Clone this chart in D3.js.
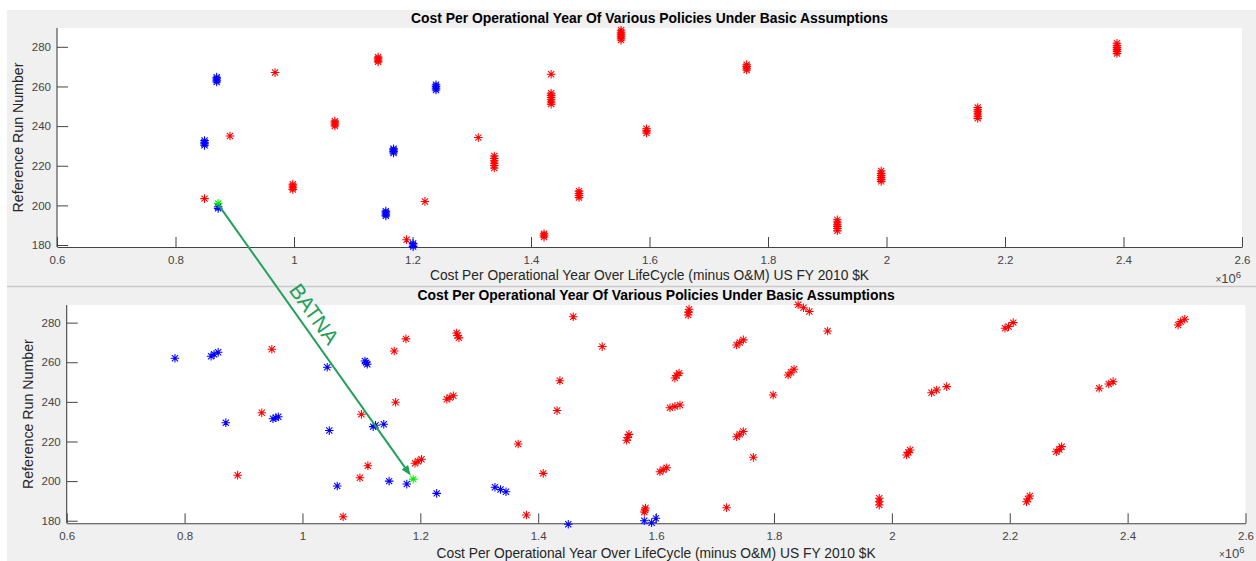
<!DOCTYPE html>
<html><head><meta charset="utf-8">
<script src="https://cdn.jsdelivr.net/npm/d3@7"></script>
<style>
body{margin:0;background:#fff;}
text{font-family:Arial,"Liberation Sans",Helvetica,sans-serif;}
</style>
</head><body>
<svg id="chart" width="1256" height="561"></svg>
<script>
// ---------- tick data ----------
const xTicks = [0.6, 0.8, 1.0, 1.2, 1.4, 1.6, 1.8, 2.0, 2.2, 2.4, 2.6];
const xTickLabels = ["0.6", "0.8", "1", "1.2", "1.4", "1.6", "1.8", "2", "2.2", "2.4", "2.6"];
const yTicks = [180, 200, 220, 240, 260, 280];
const yTickLabels = ["180", "200", "220", "240", "260", "280"];

const titleText = "Cost Per Operational Year Of Various Policies Under Basic Assumptions";
const xLabelText = "Cost Per Operational Year Over LifeCycle (minus O&M) US FY 2010 $K";
const yLabelText = "Reference Run Number";
const exponentPow = "6";
const arrowLabel = "BATNA";

// ---------- top panel data (x in 10^6 $K, clusters of run numbers) ----------
const topRedX = [0.968, 1.142, 1.069, 0.892, 0.998, 0.849, 1.190, 1.221, 1.311, 1.338, 1.434, 1.434,
  1.422, 1.481, 1.552, 1.595, 1.764, 1.917, 1.991, 2.154, 2.389];
const topRedY = [[267], [272.4, 273.2, 274, 274.8], [240.1, 240.9, 241.7, 242.5], [235],
  [208, 208.9, 209.8, 210.7], [203.4], [182.7], [202], [234.2],
  [218.9, 220.1, 221.3, 222.5, 223.7, 224.9], [266.2], [251.1, 252.2, 253.3, 254.4, 255.5, 256.6],
  [184, 184.9, 185.7], [204, 205, 206, 207.2], [283.4, 284.4, 285.4, 286.4, 287.4, 288.4],
  [236.5, 237.6, 238.7], [268.3, 269.2, 270.1, 271], [187.2, 188.3, 189.4, 190.5, 191.6, 192.7],
  [212.1, 213.1, 214.1, 215.1, 216.1, 217.3], [243.9, 245, 246.1, 247.2, 248.3, 249.4],
  [276.6, 277.6, 278.6, 279.6, 280.6, 281.8]];
const topBlueX = [0.8695, 0.849, 1.168, 0.872, 1.155, 1.201, 1.2397];
const topBlueY = [[262.3, 263.1, 263.9, 264.7], [230.3, 231.1, 231.9, 232.7], [226.4, 227.2, 228, 228.6],
  [198.5, 199.3], [194.7, 195.5, 196.3, 197.1], [179.2, 180, 180.8], [258.2, 259.1, 260, 260.9]];
const topGreenX = [0.872];
const topGreenY = [[201]];

// ---------- bottom panel data ----------
const botRedX = [0.948, 0.931, 0.890, 1.069, 1.100, 1.111, 1.0975, 1.1557, 1.1756, 1.158,
  1.191, 1.196, 1.202, 1.245, 1.250, 1.256, 1.2616, 1.263, 1.2655, 1.366, 1.380, 1.4085, 1.432, 1.4368,
  1.4594, 1.5086, 1.550, 1.552, 1.554, 1.580, 1.581, 1.582, 1.6065, 1.612, 1.618, 1.6235, 1.632, 1.6405,
  1.632, 1.635, 1.639, 1.6544, 1.655, 1.656, 1.7196, 1.7366, 1.742, 1.748, 1.7366, 1.742, 1.748,
  1.765, 1.7987, 1.824, 1.829, 1.834, 1.841, 1.850, 1.860, 1.891, 1.9786, 1.9786, 1.9786,
  2.025, 2.028, 2.031, 2.0674, 2.076, 2.093, 2.192, 2.198, 2.206, 2.2285, 2.231, 2.234,
  2.279, 2.284, 2.288, 2.3517, 2.368, 2.3754, 2.4857, 2.490, 2.497];
const botRedY = [266.6, 234.5, 203, 182, 233.7, 207.8, 201.7, 265.7, 271.8, 239.8,
  209, 210, 211, 241.3, 242.2, 243.1, 274.8, 273.5, 272.3, 218.7, 182.9, 203.9, 235.6, 250.7,
  283, 267.9, 220.6, 222, 223.6, 184.4, 185.4, 186.4, 204.7, 205.7, 206.7, 237, 237.7, 238.4,
  252, 253.3, 254.5, 283.9, 285.3, 286.8, 186.6, 222.4, 223.7, 225, 268.7, 270, 271.3,
  212, 243.5, 253.6, 255, 256.5, 289, 287.5, 285.6, 275.8, 187.9, 189.6, 191.3,
  213.2, 214.5, 215.7, 244.6, 246, 247.7, 277.2, 278, 280, 189.6, 191, 192.5,
  214.8, 216, 217.4, 246.9, 249, 250.2, 278.8, 280.5, 281.7];
const botBlueX = [0.7837, 0.845, 0.850, 0.857, 0.870, 0.950, 0.955, 0.959, 1.042, 1.0455, 1.059,
  1.106, 1.108, 1.110, 1.120, 1.124, 1.138, 1.147, 1.177, 1.2277, 1.3266, 1.336, 1.3453, 1.451,
  1.580, 1.5924, 1.5997];
const botBlueY = [262, 263, 264, 265, 229.5, 231.5, 232, 232.5, 257.5, 225.5, 197.5,
  260.6, 259.8, 259, 227.5, 228.2, 228.7, 200, 198.5, 193.8, 196.9, 195.8, 194.6, 178.2,
  180, 179, 181.2];
const botGreenX = [1.188];
const botGreenY = [201];

// ---------- drawing ----------
const svg = d3.select("#chart");
const W = 1256, H = 561;
svg.append("rect").attr("width", W).attr("height", H).attr("fill", "#ffffff");
svg.append("rect").attr("x", 7).attr("y", 10).attr("width", W - 7).attr("height", 276).attr("fill", "#f0f0f0");
svg.append("rect").attr("x", 7).attr("y", 286).attr("width", W - 7).attr("height", H - 286).attr("fill", "#f0f0f0");
svg.append("line").attr("x1", 7).attr("x2", W).attr("y1", 286.5).attr("y2", 286.5)
  .attr("stroke", "#c9c9c9").attr("stroke-width", 1.5);

const starPath = "M-4.3,0H4.3M0,-4.3V4.3M-3.1,-3.1L3.1,3.1M-3.1,3.1L3.1,-3.1";

const panels = [
  {left: 57, right: 1242, top: 28, bottom: 247, yDomain: [179, 289.5], titleY: 23, xLabelY: 280, expY: 283},
  {left: 66.7, right: 1245.5, top: 305, bottom: 523.3, yDomain: [178.7, 288.9], titleY: 300, xLabelY: 558, expY: 558}
];

function drawPanel(p, groups) {
  const x = d3.scaleLinear().domain([0.6, 2.6]).range([p.left, p.right]);
  const y = d3.scaleLinear().domain(p.yDomain).range([p.bottom, p.top]);
  p.x = x; p.y = y;
  svg.append("rect").attr("x", p.left).attr("y", p.top)
    .attr("width", p.right - p.left).attr("height", p.bottom - p.top).attr("fill", "#ffffff");

  const xAxis = d3.axisBottom(x).tickValues(xTicks).tickSizeInner(-10).tickSizeOuter(0).tickPadding(9)
    .tickFormat((d, i) => xTickLabels[i]);
  const gx = svg.append("g").attr("transform", `translate(0,${p.bottom})`).call(xAxis);
  const yAxis = d3.axisLeft(y).tickValues(yTicks).tickSizeInner(-11).tickSizeOuter(0).tickPadding(6)
    .tickFormat((d, i) => yTickLabels[i]);
  const gy = svg.append("g").attr("transform", `translate(${p.left},0)`).call(yAxis);
  gy.select(".domain").attr("d", `M0,${p.top}V${p.bottom}`);
  [gx, gy].forEach(g => {
    g.select(".domain").attr("stroke", "#444").attr("stroke-width", 1.1);
    g.selectAll(".tick line").attr("stroke", "#444").attr("stroke-width", 1);
    g.selectAll(".tick text").attr("fill", "#444").attr("font-size", 11.5)
      .attr("font-family", "Arial, 'Liberation Sans', sans-serif");
  });

  const cx = (p.left + p.right) / 2, cy = (p.top + p.bottom) / 2;
  svg.append("text").attr("x", cx).attr("y", p.titleY).attr("text-anchor", "middle")
    .attr("font-size", 13.9).attr("font-weight", "bold").attr("fill", "#000").text(titleText);
  svg.append("text").attr("x", cx).attr("y", p.xLabelY).attr("text-anchor", "middle")
    .attr("font-size", 13.8).attr("fill", "#262626").text(xLabelText);
  svg.append("text").attr("transform", `translate(${p.left - 39},${cy}) rotate(-90)`)
    .attr("text-anchor", "middle").attr("dominant-baseline", "central")
    .attr("font-size", 14.2).attr("fill", "#262626").text(yLabelText);
  const ex = svg.append("text").attr("x", p.right - 1).attr("y", p.expY).attr("text-anchor", "end")
    .attr("fill", "#444").attr("font-size", 13);
  ex.append("tspan").attr("font-size", 10).text("\u00d7");
  ex.append("tspan").text("10");
  ex.append("tspan").attr("font-size", 9.5).attr("dy", -5).text(exponentPow);

  groups.forEach(gr => {
    svg.append("g").selectAll("path").data(gr.pts).join("path")
      .attr("d", starPath)
      .attr("transform", d => `translate(${x(d[0])},${y(d[1])})`)
      .attr("fill", "none").attr("stroke", gr.color).attr("stroke-width", 1.05);
  });
}

function clusterPts(xs, ys) {
  const out = [];
  xs.forEach((xv, i) => ys[i].forEach(yv => out.push([xv, yv])));
  return out;
}
function flatPts(xs, ys) { return xs.map((xv, i) => [xv, ys[i]]); }

drawPanel(panels[0], [
  {color: "#ff0000", pts: clusterPts(topRedX, topRedY)},
  {color: "#0000ff", pts: clusterPts(topBlueX, topBlueY)},
  {color: "#00ee00", pts: clusterPts(topGreenX, topGreenY)}
]);
drawPanel(panels[1], [
  {color: "#ff0000", pts: flatPts(botRedX, botRedY)},
  {color: "#0000ff", pts: flatPts(botBlueX, botBlueY)},
  {color: "#00ee00", pts: flatPts(botGreenX, botGreenY)}
]);

// ---------- BATNA arrow ----------
const arrowColor = "#22a05a";
const sx = panels[0].x(topGreenX[0]), sy = panels[0].y(topGreenY[0][0]) + 1;
const gxp = panels[1].x(botGreenX[0]), gyp = panels[1].y(botGreenY[0]);
const dxA = gxp - sx, dyA = gyp - sy, len = Math.hypot(dxA, dyA);
const ux = dxA / len, uy = dyA / len;
const exA = gxp - ux * 4.5, eyA = gyp - uy * 4.5;
const headL = 10, headW = 4;
const bx = exA - ux * headL, by = eyA - uy * headL;
svg.append("line").attr("x1", sx).attr("y1", sy).attr("x2", bx).attr("y2", by)
  .attr("stroke", arrowColor).attr("stroke-width", 2);
svg.append("path")
  .attr("d", `M${exA},${eyA}L${bx - uy * headW},${by + ux * headW}L${bx + uy * headW},${by - ux * headW}Z`)
  .attr("fill", arrowColor);
const ang = Math.atan2(dyA, dxA) * 180 / Math.PI;
const t = 0.43;
const px = -uy, py = ux;
const tx = sx + dxA * t - px * 15, ty = sy + dyA * t - py * 15;
svg.append("text").attr("transform", `translate(${tx},${ty}) rotate(${ang})`)
  .attr("text-anchor", "middle").attr("dominant-baseline", "central")
  .attr("font-size", 21).attr("fill", arrowColor).text(arrowLabel);
</script>
</body></html>
